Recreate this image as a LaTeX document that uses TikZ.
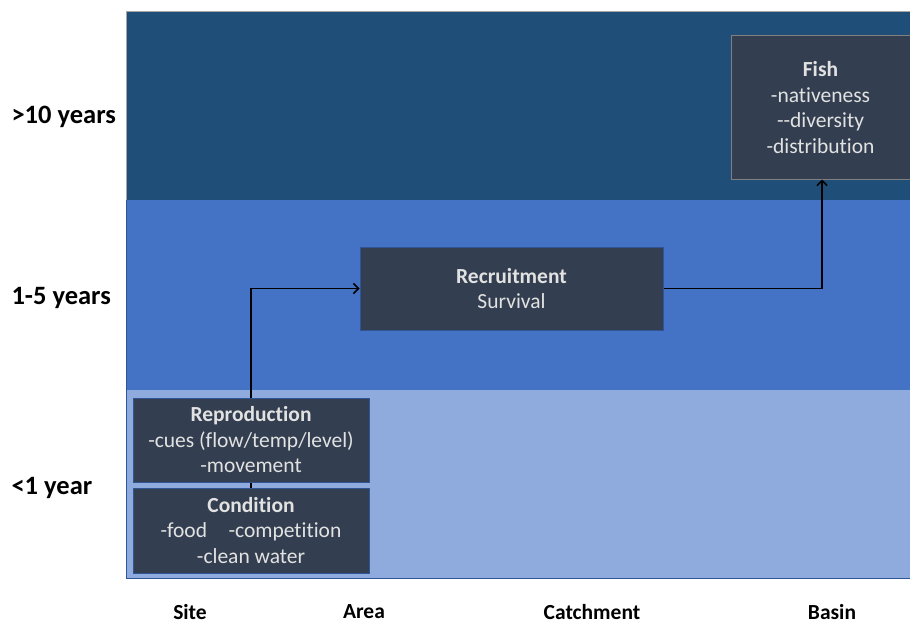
\documentclass[tikz,border=0pt]{standalone}
\usepackage{fontspec}
\setmainfont{Carlito}[Ligatures={NoCommon}]
\usetikzlibrary{arrows.meta}
\definecolor{bandtop}{HTML}{1F4E79}
\definecolor{bandmid}{HTML}{4472C4}
\definecolor{bandlow}{HTML}{8FAADC}
\definecolor{boxfill}{HTML}{333F50}
\definecolor{boxtext}{HTML}{E2E2E2}
\definecolor{edgeblue}{HTML}{2F5597}
\tikzset{
  infobox/.style={draw=edgeblue, line width=1pt, fill=boxfill, text=boxtext, align=center,
    font=\fontsize{21.5}{25.5}\selectfont, inner sep=0pt},
  rowlabel/.style={anchor=west, font=\bfseries\fontsize{26.5}{30}\selectfont},
  collabel/.style={font=\bfseries\fontsize{21.5}{24}\selectfont},
  link/.style={line width=1.5pt, -{Straight Barb[length=5pt,width=10pt]}}
}
\begin{document}
\begin{tikzpicture}[x=1pt,y=-1pt]
\useasboundingbox (0,0) rectangle (910,626);
% bands
\fill[bandtop] (126,12) rectangle (912,200);
\fill[bandmid] (126,200) rectangle (912,390);
\fill[bandlow] (126,390) rectangle (912,578);
\draw[line width=1pt, draw=gray!70] (126,12) -- (126,200);
\draw[line width=1pt, draw=gray!70] (126,12) -- (912,12);
\draw[line width=1pt, draw=edgeblue] (126,200) -- (126,578) -- (912,578);
% boxes
\node[infobox, draw=gray, minimum width=179pt, minimum height=143pt] (fish) at (820.5,107.5)
  {\textbf{Fish}\\-nativeness\\-{}-diversity\\-distribution};
\node[infobox, minimum width=303pt, minimum height=83pt] (recr) at (511.5,288.5)
  {\textbf{Recruitment}\\Survival};
\node[infobox, minimum width=236pt, minimum height=84pt] (repro) at (251,440)
  {\textbf{Reproduction}\\-cues (flow/temp/level)\\-movement};
\node[infobox, minimum width=236pt, minimum height=85pt] (cond) at (251,530.5)
  {\textbf{Condition}\\-food\quad -competition\\-clean water};
% connectors
\draw[line width=1.5pt] (cond.north) -- (repro.south);
\draw[link] (repro.north) |- (recr.west);
\draw[link] (recr.east) -| (fish.south -| 822,0);
% row labels
\node[rowlabel] (r10) at (8,117) {>10 years};
\node[rowlabel] (r15) at (8,298) {1-5 years};
\node[rowlabel] (r1) at (8,488) {<1 year};
% column labels
\node[collabel] (site) at (190,612) {Site};
\node[collabel] (area) at (364,612) {Area};
\node[collabel] (catch) at (592,612) {Catchment};
\node[collabel] (basin) at (832,612) {Basin};
\end{tikzpicture}
\end{document}
